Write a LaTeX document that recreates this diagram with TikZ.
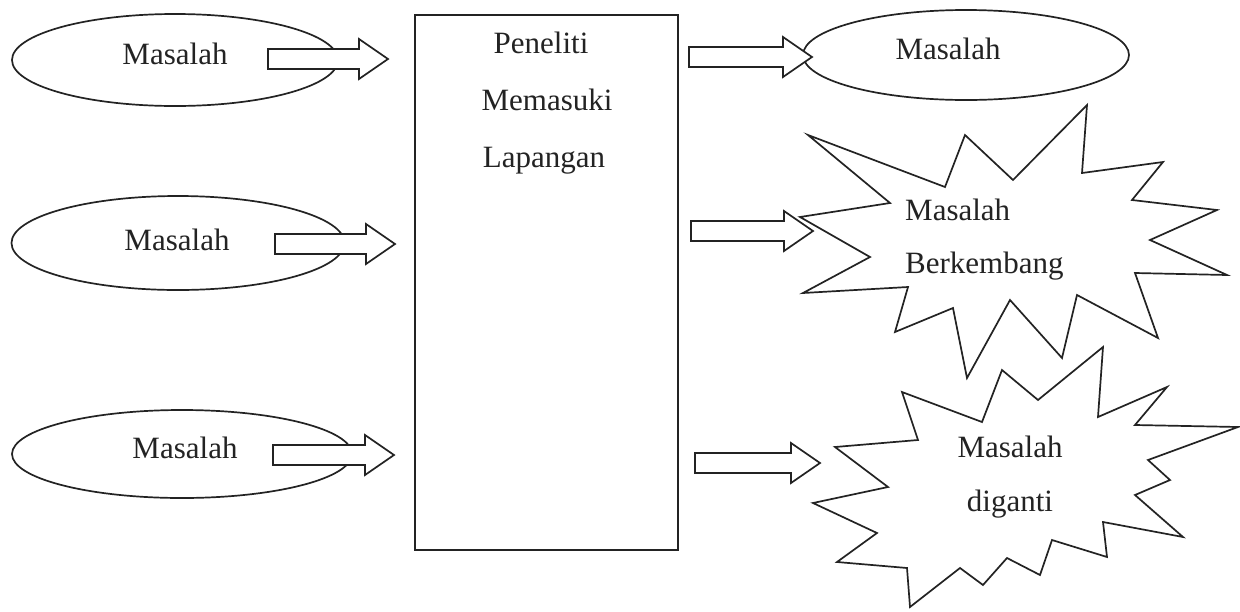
\documentclass[tikz,border=0pt]{standalone}
\usepackage{fontspec}
\setmainfont{Liberation Serif}
\usetikzlibrary{shapes.geometric}
\definecolor{ink}{RGB}{35,35,35}
\tikzset{
  shapeline/.style={draw=ink, line width=1.7pt, fill=white, line join=miter},
  ell/.style={ellipse, shapeline, inner sep=0pt},
  txt/.style={font=\fontsize{31}{37}\selectfont, text=ink, inner sep=0pt},
  arrowline/.style={draw=ink, line width=1.7pt, fill=white, line join=miter},
  pics/blockarrow/.style={code={
    \draw[arrowline] (0,-10) -- ({#1-29},-10) -- ({#1-29},-20) -- (#1,0)
      -- ({#1-29},20) -- ({#1-29},10) -- (0,10) -- cycle;
  }}
}
\begin{document}
\begin{tikzpicture}[x=1pt, y=-1pt]
\useasboundingbox (0,0) rectangle (1240,611);
\fill[white] (0,0) rectangle (1240,611);

% left ellipses
\node[ell, minimum width=326pt, minimum height=92pt] (e1) at (175,60) {};
\node[ell, minimum width=333pt, minimum height=94pt] (e2) at (178,243) {};
\node[ell, minimum width=340pt, minimum height=88pt] (e3) at (182,454) {};
\node[txt, anchor=base] (t1) at (175,64) {Masalah};
\node[txt, anchor=base] (t2) at (177,250) {Masalah};
\node[txt, anchor=base] (t3) at (185,458) {Masalah};

% central box
\node[draw=ink, line width=1.7pt, minimum width=263pt, minimum height=535pt, inner sep=0pt] (box) at (546.5,282.5) {};
\node[txt, anchor=base] (b1) at (541,53) {Peneliti};
\node[txt, anchor=base] (b2) at (547,110) {Memasuki};
\node[txt, anchor=base] (b3) at (544,167) {Lapangan};

% right ellipse
\node[ell, minimum width=326pt, minimum height=90pt] (e4) at (966,55) {};
\node[txt, anchor=base] (t4) at (948,59) {Masalah};

% star 1
\draw[shapeline] (808,135) -- (945,187) -- (965,135) -- (1013,180) -- (1087,105)
  -- (1082,173) -- (1163,162) -- (1132,200) -- (1217,210) -- (1150,240)
  -- (1227,275) -- (1135,273) -- (1158,338) -- (1077,295) -- (1062,358)
  -- (1010,300) -- (967,378) -- (953,308) -- (895,332) -- (908,287)
  -- (803,293) -- (870,257) -- (800,217) -- (890,203) -- cycle;
\node[txt, anchor=base west] (s1a) at (905,220) {Masalah};
\node[txt, anchor=base west] (s1b) at (905,273) {Berkembang};

% star 2
\draw[shapeline] (902,392) -- (982,422) -- (1002,370) -- (1038,400) -- (1103,347)
  -- (1098,417) -- (1167,387) -- (1135,425) -- (1238,427) -- (1148,460)
  -- (1170,480) -- (1135,495) -- (1183,537) -- (1103,522) -- (1107,557)
  -- (1052,540) -- (1040,575) -- (1007,558) -- (983,585) -- (960,568)
  -- (910,607) -- (907,568) -- (837,562) -- (877,533) -- (813,503)
  -- (888,487) -- (835,447) -- (918,440) -- cycle;
\node[txt, anchor=base] (s2a) at (1010,457) {Masalah};
\node[txt, anchor=base] (s2b) at (1010,511) {diganti};

% block arrows
\pic at (268,59) {blockarrow=120};
\pic at (275,244) {blockarrow=120};
\pic at (273,455) {blockarrow=121};
\pic at (689,57) {blockarrow=123};
\pic at (691,231) {blockarrow=122};
\pic at (695,463) {blockarrow=125};
\end{tikzpicture}
\end{document}
